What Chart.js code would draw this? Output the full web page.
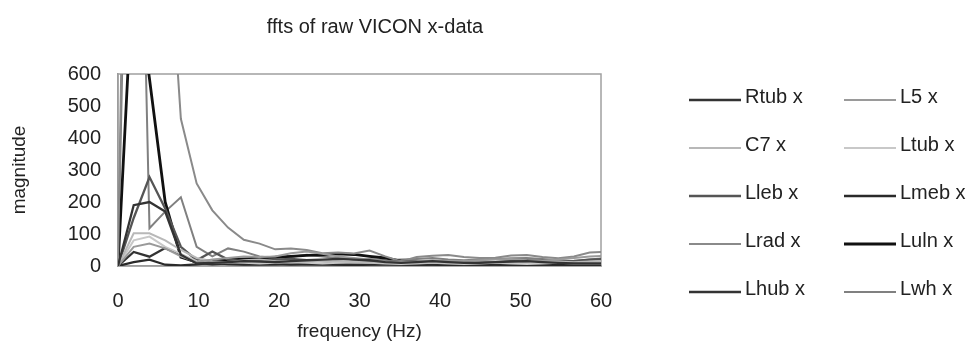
<!DOCTYPE html>
<html>
<head>
<meta charset="utf-8">
<script src="https://cdn.jsdelivr.net/npm/chart.js@4"></script>
<style>
  body { margin: 0; background: #fff; }
  #wrap { width: 971px; height: 347px; }
</style>
</head>
<body>
<div id="wrap"><canvas id="fftChart" width="971" height="347"></canvas></div>
<script>
// frequency bins (Hz)
const freqs = [0, 1.95, 3.91, 5.86, 7.81, 9.77, 11.72, 13.67, 15.63, 17.58, 19.53, 21.48, 23.44, 25.39, 27.34, 29.3,
  31.25, 33.2, 35.16, 37.11, 39.06, 41.02, 42.97, 44.92, 46.88, 48.83, 50.78, 52.73, 54.69, 56.64, 58.59, 60.55];

const seriesNames = ['Rtub x', 'L5 x', 'C7 x', 'Ltub x', 'Lleb x', 'Lmeb x', 'Lrad x', 'Luln x', 'Lhub x', 'Lwh x'];

const rtub = [0, 190, 200, 170, 35, 8, 10, 12, 15, 14, 12, 15, 18, 20, 22, 20, 18, 12, 10, 12, 15, 12, 10, 10, 12, 14, 15, 12, 10, 8, 8, 8];
const l5   = [0, 60, 70, 55, 30, 12, 20, 25, 30, 28, 30, 40, 45, 38, 30, 25, 20, 15, 12, 14, 18, 16, 15, 18, 20, 22, 18, 16, 20, 25, 30, 32];
const c7   = [0, 102, 102, 80, 50, 25, 15, 12, 18, 20, 15, 12, 14, 16, 15, 12, 10, 12, 14, 12, 10, 12, 14, 12, 10, 12, 14, 16, 14, 12, 14, 15];
const ltub = [0, 80, 92, 60, 38, 15, 10, 12, 10, 8, 10, 12, 10, 8, 10, 12, 10, 8, 6, 8, 10, 8, 6, 8, 10, 8, 6, 8, 10, 8, 8, 8];
const lleb = [0, 150, 278, 180, 60, 18, 45, 20, 15, 18, 20, 22, 18, 15, 12, 10, 12, 14, 16, 14, 12, 10, 8, 10, 12, 15, 18, 16, 14, 16, 20, 22];
const lmeb = [0, 12, 20, 4, 2, 5, 10, 6, 4, 5, 6, 4, 5, 6, 4, 3, 4, 5, 6, 5, 4, 3, 4, 5, 4, 3, 2, 2, 3, 2, 2, 2];
const lrad = [0, 3000, 2000, 1200, 460, 258, 174, 120, 82, 70, 52, 55, 50, 40, 42, 39, 48, 30, 14, 28, 32, 34, 28, 25, 26, 33, 34, 28, 24, 30, 42, 44];
const luln = [0, 960, 585, 200, 28, 12, 15, 20, 22, 25, 28, 30, 33, 35, 38, 36, 30, 25, 15, 12, 10, 8, 10, 12, 10, 8, 6, 5, 5, 4, 4, 4];
const lhub = [0, 44, 29, 56, 35, 10, 5, 8, 6, 5, 6, 8, 6, 5, 4, 5, 6, 5, 4, 3, 4, 5, 4, 3, 4, 5, 4, 3, 3, 3, 3, 3];
const lwh  = [0, 2300, 118, 170, 215, 60, 30, 55, 45, 30, 25, 28, 35, 30, 25, 20, 22, 18, 20, 22, 25, 20, 18, 20, 22, 24, 25, 22, 18, 15, 20, 25];

const seriesValues = [rtub, l5, c7, ltub, lleb, lmeb, lrad, luln, lhub, lwh];
const seriesColors = ['#333333', '#9a9a9a', '#b8b8b8', '#c8c8c8', '#555555', '#2a2a2a', '#8a8a8a', '#111111', '#333333', '#808080'];
const seriesWidths = [2.3, 2, 2, 2, 2.3, 2.3, 2, 2.8, 2.3, 2];

const xTicks = [0, 10, 20, 30, 40, 50, 60];
const yTicks = [0, 100, 200, 300, 400, 500, 600];

const textColor = '#222';
const fontFam = '"Liberation Sans", Arial, sans-serif';

let datasets = [];
for (let i = 0; i < seriesNames.length; i++) {
  datasets.push({
    label: seriesNames[i],
    data: freqs.map((f, j) => ({x: f, y: seriesValues[i][j]})),
    borderColor: seriesColors[i],
    borderWidth: seriesWidths[i],
    pointRadius: 0,
    tension: 0,
    fill: false,
    clip: 0
  });
}

// plot frame + title + legend drawn on the canvas
const extras = {
  id: 'extras',
  beforeDatasetsDraw(chart) {
    const {ctx, chartArea: a} = chart;
    ctx.save();
    ctx.strokeStyle = '#a0a0a0';
    ctx.lineWidth = 1.5;
    ctx.strokeRect(a.left, a.top, a.right - a.left, a.bottom - a.top);
    ctx.restore();
  },
  afterDraw(chart) {
    const ctx = chart.ctx;
    ctx.save();
    ctx.fillStyle = textColor;
    ctx.font = '20px ' + fontFam;
    ctx.textAlign = 'center';
    ctx.textBaseline = 'middle';
    ctx.fillText('ffts of raw VICON x-data', 375, 27);

    // legend, two columns
    ctx.textAlign = 'left';
    chart.data.datasets.forEach((ds, i) => {
      const col = i % 2;
      const row = Math.floor(i / 2);
      const x0 = col === 0 ? 689 : 844;
      const y = 100 + row * 48;
      ctx.strokeStyle = ds.borderColor;
      ctx.lineWidth = ds.borderWidth;
      ctx.beginPath();
      ctx.moveTo(x0, y);
      ctx.lineTo(x0 + 52, y);
      ctx.stroke();
      ctx.fillStyle = textColor;
      ctx.fillText(ds.label, x0 + 56, y - 3);
    });
    ctx.restore();
  }
};

new Chart(document.getElementById('fftChart'), {
  type: 'line',
  data: { datasets: datasets },
  options: {
    responsive: false,
    animation: false,
    devicePixelRatio: 1,
    layout: { padding: { top: 74, right: 370, left: 0, bottom: 0 } },
    plugins: {
      legend: { display: false },
      title: { display: false },
      tooltip: { enabled: false }
    },
    scales: {
      x: {
        type: 'linear',
        min: 0,
        max: 60,
        afterFit: (scale) => { scale.height = 81; },
        afterBuildTicks: (scale) => { scale.ticks = xTicks.map(v => ({value: v})); },
        grid: { display: false, drawTicks: false },
        border: { display: true, color: '#909090', width: 1.5 },
        ticks: { padding: 23, color: textColor, font: { size: 20, family: fontFam } },
        title: { display: true, text: 'frequency (Hz)', color: textColor, font: { size: 19, family: fontFam }, padding: { top: 0, bottom: 4 } }
      },
      y: {
        min: 0,
        max: 600,
        afterFit: (scale) => { scale.width = 118; },
        afterBuildTicks: (scale) => { scale.ticks = yTicks.map(v => ({value: v})); },
        grid: { display: false, drawTicks: false },
        border: { display: true, color: '#909090', width: 1.5 },
        ticks: { padding: 17, color: textColor, font: { size: 20, family: fontFam } },
        title: { display: true, text: 'magnitude', color: textColor, font: { size: 19, family: fontFam }, padding: { top: 8, bottom: 0 } }
      }
    }
  },
  plugins: [extras]
});
</script>
</body>
</html>
